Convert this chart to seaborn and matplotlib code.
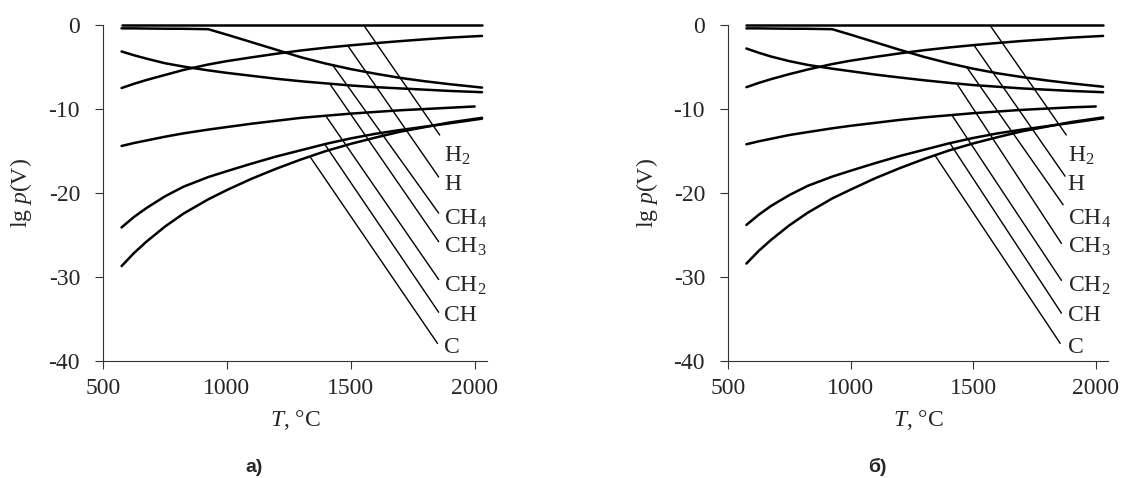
import numpy as np
import matplotlib
matplotlib.use('Agg')
import matplotlib.pyplot as plt
import seaborn as sns

# --- data: lg p vs T for the species, two variants (а, б) ---
T_full = [575, 625, 675, 750, 825, 925, 1000, 1100, 1200, 1300, 1400, 1500, 1600, 1700, 1800, 1900, 2030]
T_short = [575, 625, 675, 750, 825, 925, 1000, 1100, 1200, 1300, 1400, 1500, 1600, 1700, 1800, 1900, 2000]

species = ['H$_2$', 'H', 'CH$_4$', 'CH$_3$', 'CH$_2$', 'CH', 'C']

# panel а)
a_H2 = [0.0] * 17
a_H = [-7.5, -7.0, -6.55, -5.95, -5.35, -4.7, -4.3, -3.85, -3.42, -3.03, -2.7, -2.42, -2.16, -1.92, -1.7, -1.5, -1.3]
a_CH4 = [-0.4, -0.4, -0.42, -0.44, -0.45, -0.5, -1.15, -2.05, -2.95, -3.85, -4.6, -5.25, -5.8, -6.3, -6.7, -7.05, -7.45]
a_CH3 = [-3.15, -3.6, -4.0, -4.55, -4.95, -5.4, -5.7, -6.05, -6.4, -6.7, -6.95, -7.2, -7.4, -7.55, -7.7, -7.85, -8.0]
a_CH2 = [-14.4, -14.05, -13.75, -13.3, -12.9, -12.45, -12.15, -11.75, -11.4, -11.05, -10.8, -10.55, -10.35, -10.15, -10.0, -9.85, -9.7]
a_CH = [-24.1, -22.85, -21.8, -20.4, -19.25, -18.1, -17.4, -16.5, -15.65, -14.9, -14.15, -13.5, -12.95, -12.5, -12.1, -11.7, -11.15]
a_C = [-28.7, -27.15, -25.8, -24.0, -22.45, -20.75, -19.65, -18.3, -17.1, -16.0, -15.0, -14.15, -13.4, -12.7, -12.15, -11.6, -11.05]

# panel б)
b_H2 = [0.0] * 17
b_H = [-7.4, -6.9, -6.45, -5.85, -5.3, -4.65, -4.25, -3.8, -3.38, -3.0, -2.68, -2.4, -2.14, -1.9, -1.7, -1.5, -1.3]
b_CH4 = [-0.4, -0.4, -0.42, -0.44, -0.45, -0.5, -1.15, -2.05, -2.95, -3.8, -4.55, -5.2, -5.75, -6.2, -6.6, -6.95, -7.35]
b_CH3 = [-2.8, -3.3, -3.75, -4.3, -4.75, -5.2, -5.5, -5.9, -6.25, -6.58, -6.88, -7.15, -7.35, -7.55, -7.7, -7.85, -8.0]
b_CH2 = [-14.2, -13.85, -13.55, -13.1, -12.75, -12.3, -12.0, -11.65, -11.3, -11.0, -10.75, -10.5, -10.3, -10.1, -9.95, -9.8, -9.7]
b_CH = [-23.8, -22.6, -21.55, -20.25, -19.15, -18.05, -17.35, -16.45, -15.6, -14.85, -14.1, -13.45, -12.9, -12.45, -12.05, -11.65, -11.1]
b_C = [-28.4, -26.9, -25.6, -23.85, -22.35, -20.65, -19.6, -18.25, -17.05, -15.95, -14.95, -14.1, -13.35, -12.65, -12.1, -11.55, -11.0]

# leader lines: start T (on the curve), end point; label baselines
a_lead_T0 = [1552, 1488, 1427, 1415, 1399, 1395, 1335]
a_lead_T1 = [1859, 1855, 1855, 1855, 1855, 1855, 1850]
a_lead_y1 = [-13.1, -18.1, -22.4, -25.8, -30.3, -34.2, -37.9]
b_lead_T0 = [1568, 1503, 1474, 1433, 1413, 1405, 1344]
b_lead_T1 = [1880, 1875, 1867, 1860, 1860, 1860, 1855]
b_lead_y1 = [-13.1, -18.0, -21.4, -26.0, -30.4, -34.3, -37.9]
label_y = [-16.3, -19.6, -23.8, -27.1, -31.7, -35.2, -39.0]
a_label_T = 1878
b_label_T = 1886

sns.set_theme(style='ticks')
plt.rcParams['font.family'] = ['Liberation Serif', 'DejaVu Serif']
plt.rcParams['mathtext.fontset'] = 'custom'
plt.rcParams['mathtext.rm'] = 'Liberation Serif'
plt.rcParams['mathtext.it'] = 'Liberation Serif:italic'
plt.rcParams['axes.unicode_minus'] = False


def draw_panel(ax, curves, lead_T0, lead_T1, lead_y1, label_T):
    for tt, vals in curves:
        sns.lineplot(x=tt, y=vals, color='black', linewidth=1.8, ax=ax,
                     clip_on=False, sort=False)
    for (tt, vals), t0, t1, y1, ly, name in zip(curves, lead_T0, lead_T1, lead_y1,
                                                  label_y, species):
        y0 = np.interp(t0, tt, vals)
        ax.plot([t0, t1], [y0, y1], color='black', linewidth=1.0)
        ax.text(label_T, ly, name, fontsize=17, ha='left', va='baseline')

    ax.set_xlim(500, 2050)
    ax.set_ylim(-40, 0)
    ax.set_xticks([500, 1000, 1500, 2000])
    ax.set_yticks([0, -10, -20, -30, -40])
    ax.set_yticklabels(['0', '-10', '-20', '-30', '-40'])
    ax.tick_params(axis='both', labelsize=17, length=6, width=0.8,
                   color='#333333', direction='out')
    ax.tick_params(axis='y', pad=10.5)
    ax.tick_params(axis='x', pad=6)
    sns.despine(ax=ax)
    for s in ['left', 'bottom']:
        ax.spines[s].set_linewidth(0.8)
        ax.spines[s].set_color('#333333')
    ax.set_xlabel(r'$T$, °C', fontsize=17)
    ax.set_ylabel(r'lg $p$(V)', fontsize=17)
    ax.xaxis.set_label_coords(0.5, -0.14)
    ax.yaxis.set_label_coords(-0.18, 0.5)


fig = plt.figure(figsize=(11.29, 4.78), dpi=100)
ax1 = fig.add_axes([103 / 1129, 117 / 478, 384 / 1129, 336 / 478])
ax2 = fig.add_axes([728 / 1129, 117 / 478, 380 / 1129, 336 / 478])

a_curves = [(T_full, a_H2), (T_full, a_H), (T_full, a_CH4), (T_full, a_CH3),
            (T_short, a_CH2), (T_full, a_CH), (T_full, a_C)]
b_curves = [(T_full, b_H2), (T_full, b_H), (T_full, b_CH4), (T_full, b_CH3),
            (T_short, b_CH2), (T_full, b_CH), (T_full, b_C)]

draw_panel(ax1, a_curves, a_lead_T0, a_lead_T1, a_lead_y1, a_label_T)
draw_panel(ax2, b_curves, b_lead_T0, b_lead_T1, b_lead_y1, b_label_T)

fig.text(254 / 1129, 1 - 467 / 478, 'а)', fontsize=14, fontweight='bold',
         family=['Liberation Sans', 'DejaVu Sans'], ha='center', va='center')
fig.text(877 / 1129, 1 - 467 / 478, 'б)', fontsize=14, fontweight='bold',
         family=['Liberation Sans', 'DejaVu Sans'], ha='center', va='center')

fig.savefig('out.png', dpi=100)
